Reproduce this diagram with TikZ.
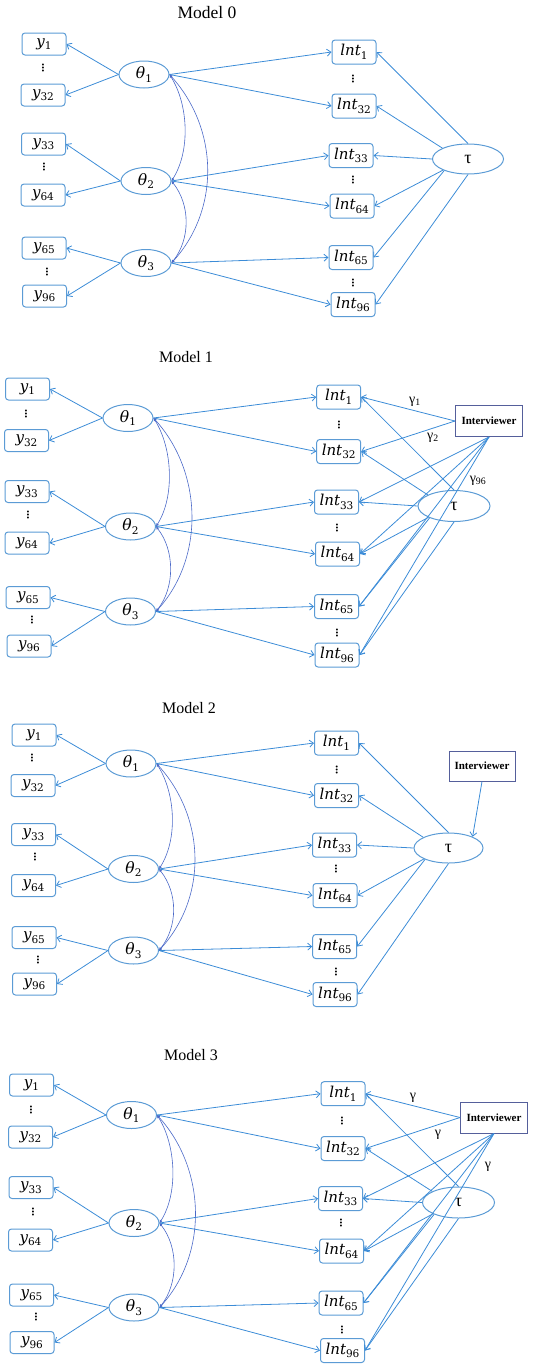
\RequirePackage{fix-cm}
\documentclass[tikz,border=0pt]{standalone}
\usepackage{fontspec}
\newfontfamily\tnr{Liberation Serif}
\newfontfamily\dvs{DejaVu Serif}
\usetikzlibrary{arrows.meta,shapes.geometric,calc}
\definecolor{boxblue}{RGB}{91,155,213}
\definecolor{lineblue}{RGB}{60,140,215}
\definecolor{covblue}{RGB}{75,105,200}
\definecolor{intvcol}{RGB}{85,95,155}
\newcommand{\mv}[2]{{\itshape #1}\raisebox{-3.5pt}{\fontsize{10.5}{11}\selectfont #2}}
\tikzset{
 obs/.style={draw=boxblue, line width=1pt, rounded corners=3pt, minimum width=44pt, minimum height=22pt, inner sep=0pt, font=\dvs\fontsize{15}{17}\selectfont},
 lntbox/.style={obs, minimum height=24pt},
 lat/.style={draw=boxblue, line width=1pt, ellipse, minimum width=50pt, minimum height=27pt, inner sep=0pt, font=\dvs\fontsize{15.5}{17}\selectfont},
 taunode/.style={draw=boxblue, line width=1pt, ellipse, minimum width=71pt, minimum height=30pt, inner sep=0pt, font=\tnr\fontsize{18}{18}\selectfont},
 intv/.style={draw=intvcol, line width=1pt, rectangle, minimum width=67pt, minimum height=31pt, inner sep=0pt, font=\tnr\bfseries\fontsize{11}{12}\selectfont},
 vd/.style={rotate=90, inner sep=0pt, font=\tnr\bfseries\fontsize{12}{12}\selectfont},
 ttl/.style={font=\tnr\fontsize{16}{18}\selectfont},
 glab/.style={font=\tnr\fontsize{14}{15}\selectfont, inner sep=0pt},
 arr/.style={draw=lineblue, line width=0.8pt, -{Straight Barb[length=4pt,width=7pt]}},
 cov/.style={draw=covblue, line width=0.6pt, {Latex[length=3pt,width=3pt]}-{Latex[length=3pt,width=3pt]}},
}
\newcommand{\coreedges}[1]{%
 \foreach \a/\b in {t1/y1,t1/y32,t2/y33,t2/y64,t3/y65,t3/y96} {\draw[arr] (#1\a.west) -- (#1\b.east);}
 \foreach \a/\b in {t1/l1,t1/l32,t2/l33,t2/l64,t3/l65,t3/l96} {\draw[arr] (#1\a.east) -- (#1\b.west);}
 \draw[cov] (#1t1.east) .. controls +(19,30) and +(19,-30) .. (#1t2.east);
 \draw[cov] (#1t2.east) .. controls +(19,24) and +(19,-24) .. (#1t3.east);
 \draw[cov] (#1t1.east) .. controls +(49,54) and +(49,-54) .. (#1t3.east);
}
\newcommand{\tauedges}[1]{%
 \draw[arr] (#1tau.north) -- (#1l1.east);
 \draw[arr] (#1tau.157) -- (#1l32.east);
 \draw[arr] (#1tau.west) -- (#1l33.east);
 \draw[arr] (#1tau.204) -- (#1l64.east);
 \draw[arr] (#1tau.206) -- (#1l65.east);
 \draw[arr] (#1tau.south) -- (#1l96.east);
}
\newcommand{\ivedges}[1]{%
 \draw[arr] (#1iv.west) -- (#1l1.east);
 \draw[arr] (#1iv.west) -- (#1l32.east);
 \foreach \b in {l33,l64,l65,l96} {\draw[arr] (#1iv.south) -- (#1\b.east);}
}
\begin{document}
\begin{tikzpicture}[x=1pt,y=-1pt]
\useasboundingbox (0,0) rectangle (537,1368);
% ---------------- Model 0
\node[ttl,font=\tnr\fontsize{17.5}{18}\selectfont] (m0title) at (207,13) {Model 0};
\node[obs] (m0y1) at (44,44) {\mv{y}{1}};
\node[vd] (m0d1) at (43,68) {...};
\node[obs] (m0y32) at (43,95) {\mv{y}{32}};
\node[obs] (m0y33) at (43.5,144) {\mv{y}{33}};
\node[vd] (m0d2) at (44,167) {...};
\node[obs] (m0y64) at (43,195) {\mv{y}{64}};
\node[obs] (m0y65) at (44,248) {\mv{y}{65}};
\node[vd] (m0d3) at (47,272) {...};
\node[obs] (m0y96) at (44.5,296) {\mv{y}{96}};
\node[lat] (m0t1) at (144,74.5) {\mv{θ}{1}};
\node[lat] (m0t2) at (146,181) {\mv{θ}{2}};
\node[lat] (m0t3) at (146,263) {\mv{θ}{3}};
\node[lntbox] (m0l1) at (354,52) {\mv{lnt}{1}};
\node[vd] (m0e1) at (353,79) {...};
\node[lntbox] (m0l32) at (354,106) {\mv{lnt}{32}};
\node[lntbox] (m0l33) at (351,155.5) {\mv{lnt}{33}};
\node[vd] (m0e2) at (353,180) {...};
\node[lntbox] (m0l64) at (352,206) {\mv{lnt}{64}};
\node[lntbox] (m0l65) at (351,257.5) {\mv{lnt}{65}};
\node[vd] (m0e3) at (353,283) {...};
\node[lntbox] (m0l96) at (353,304.5) {\mv{lnt}{96}};
\node[taunode] (m0tau) at (468,159) {τ};
\coreedges{m0}
\tauedges{m0}
% ---------------- Model 1
\node[ttl] (m1title) at (186,357) {Model 1};
\node[obs] (m1y1) at (27.5,389) {\mv{y}{1}};
\node[vd] (m1d1) at (26,414) {...};
\node[obs] (m1y32) at (26.5,440.5) {\mv{y}{32}};
\node[obs] (m1y33) at (27,491.5) {\mv{y}{33}};
\node[vd] (m1d2) at (28,515) {...};
\node[obs] (m1y64) at (27,543) {\mv{y}{64}};
\node[obs] (m1y65) at (28,597.5) {\mv{y}{65}};
\node[vd] (m1d3) at (32,620) {...};
\node[obs] (m1y96) at (29,646) {\mv{y}{96}};
\node[lat] (m1t1) at (128,418) {\mv{θ}{1}};
\node[lat] (m1t2) at (130.5,526.5) {\mv{θ}{2}};
\node[lat] (m1t3) at (130.5,611.5) {\mv{θ}{3}};
\node[lntbox] (m1l1) at (338.7,397) {\mv{lnt}{1}};
\node[vd] (m1e1) at (339,425) {...};
\node[lntbox] (m1l32) at (338.7,451.5) {\mv{lnt}{32}};
\node[lntbox] (m1l33) at (336.5,502) {\mv{lnt}{33}};
\node[vd] (m1e2) at (337,528) {...};
\node[lntbox] (m1l64) at (337.5,554) {\mv{lnt}{64}};
\node[lntbox] (m1l65) at (336.5,606.5) {\mv{lnt}{65}};
\node[vd] (m1e3) at (337,633) {...};
\node[lntbox] (m1l96) at (337,655) {\mv{lnt}{96}};
\node[intv] (m1iv) at (489,421) {Interviewer};
\node[taunode,minimum width=72pt,minimum height=31pt] (m1tau) at (454,506) {τ};
\node[glab] (m1g1) at (415,402) {γ\textsubscript{1}};
\node[glab] (m1g2) at (433,438) {γ\textsubscript{2}};
\node[glab] (m1g96) at (478,481) {γ\textsubscript{96}};
\coreedges{m1}
\tauedges{m1}
\ivedges{m1}
% ---------------- Model 2
\node[ttl] (m2title) at (189,708) {Model 2};
\node[obs] (m2y1) at (34,735) {\mv{y}{1}};
\node[vd] (m2d1) at (32,758) {...};
\node[obs] (m2y32) at (33,785.5) {\mv{y}{32}};
\node[obs] (m2y33) at (33.5,834.5) {\mv{y}{33}};
\node[vd] (m2d2) at (35,857) {...};
\node[obs] (m2y64) at (33.5,885.5) {\mv{y}{64}};
\node[obs] (m2y65) at (34,937.5) {\mv{y}{65}};
\node[vd] (m2d3) at (38,960) {...};
\node[obs] (m2y96) at (34.5,984) {\mv{y}{96}};
\node[lat] (m2t1) at (131,763.5) {\mv{θ}{1}};
\node[lat] (m2t2) at (133.5,869) {\mv{θ}{2}};
\node[lat] (m2t3) at (133.5,950.5) {\mv{θ}{3}};
\node[lntbox] (m2l1) at (336.5,743) {\mv{lnt}{1}};
\node[vd] (m2e1) at (336.7,770) {...};
\node[lntbox] (m2l32) at (336.5,795.5) {\mv{lnt}{32}};
\node[lntbox] (m2l33) at (334.5,845) {\mv{lnt}{33}};
\node[vd] (m2e2) at (336,869) {...};
\node[lntbox] (m2l64) at (335,895.5) {\mv{lnt}{64}};
\node[lntbox] (m2l65) at (334.7,946.5) {\mv{lnt}{65}};
\node[vd] (m2e3) at (336,972) {...};
\node[lntbox] (m2l96) at (335,994.5) {\mv{lnt}{96}};
\node[intv,minimum width=66pt,minimum height=30pt] (m2iv) at (482,766) {Interviewer};
\node[taunode,minimum width=69pt] (m2tau) at (448.5,848) {τ};
\coreedges{m2}
\tauedges{m2}
\draw[arr] (m2iv.south) -- (m2tau.25);
% ---------------- Model 3
\node[ttl] (m3title) at (191,1055) {Model 3};
\node[obs] (m3y1) at (31.5,1085) {\mv{y}{1}};
\node[vd] (m3d1) at (31,1110) {...};
\node[obs] (m3y32) at (30.5,1137) {\mv{y}{32}};
\node[obs] (m3y33) at (31,1187.5) {\mv{y}{33}};
\node[vd] (m3d2) at (33,1212) {...};
\node[obs] (m3y64) at (30.5,1240) {\mv{y}{64}};
\node[obs] (m3y65) at (31.5,1295) {\mv{y}{65}};
\node[vd] (m3d3) at (36,1317) {...};
\node[obs] (m3y96) at (32,1342.5) {\mv{y}{96}};
\node[lat] (m3t1) at (131.5,1115) {\mv{θ}{1}};
\node[lat] (m3t2) at (134,1223) {\mv{θ}{2}};
\node[lat] (m3t3) at (134,1307.5) {\mv{θ}{3}};
\node[lntbox] (m3l1) at (343,1093.7) {\mv{lnt}{1}};
\node[vd] (m3e1) at (342,1121) {...};
\node[lntbox] (m3l32) at (343,1148.5) {\mv{lnt}{32}};
\node[lntbox] (m3l33) at (340.5,1198.5) {\mv{lnt}{33}};
\node[vd] (m3e2) at (341,1223) {...};
\node[lntbox] (m3l64) at (341.5,1251) {\mv{lnt}{64}};
\node[lntbox] (m3l65) at (341,1303) {\mv{lnt}{65}};
\node[vd] (m3e3) at (342,1330) {...};
\node[lntbox] (m3l96) at (342.5,1350.5) {\mv{lnt}{96}};
\node[intv] (m3iv) at (494,1117.5) {Interviewer};
\node[taunode,minimum width=72pt,minimum height=31pt] (m3tau) at (458.5,1202.5) {τ};
\node[glab] (m3g1) at (413,1098) {γ};
\node[glab] (m3g2) at (438,1135) {γ};
\node[glab] (m3g3) at (488,1167) {γ};
\coreedges{m3}
\tauedges{m3}
\ivedges{m3}
\end{tikzpicture}
\end{document}
